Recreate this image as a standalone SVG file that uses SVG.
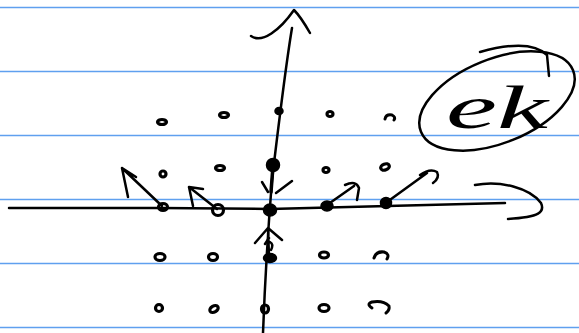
<svg xmlns="http://www.w3.org/2000/svg" width="579" height="333" viewBox="0 0 579 333">
<style>
.rule{stroke:#5fa0ef;stroke-width:1.5}
.ink{fill:none;stroke:#000;stroke-width:2.5;stroke-linecap:round;stroke-linejoin:round}
.dot{fill:none;stroke:#000;stroke-width:3.2}
.fdot{fill:#000;stroke:#000;stroke-width:1.5}
.txt{font-family:"Liberation Serif",serif;font-style:italic;font-size:62px;fill:#000}
</style>
<rect width="579" height="333" fill="#fff"/>
<g id="paper">
<line class="rule" x1="0" y1="7.5" x2="579" y2="7.5"/>
<line class="rule" x1="0" y1="71.5" x2="579" y2="71.5"/>
<line class="rule" x1="0" y1="135.5" x2="579" y2="135.5"/>
<line class="rule" x1="0" y1="199.5" x2="579" y2="199.5"/>
<line class="rule" x1="0" y1="263.5" x2="579" y2="263.5"/>
<line class="rule" x1="0" y1="327.5" x2="579" y2="327.5"/>
</g>
<g id="connectors">
<path id="y-axis" class="ink" d="M292,28 C285,70 278,130 272,180 C268,230 265,280 263,333"/>
<path id="y-head" class="ink" d="M251,36 C262,44 280,30 294,10 C300,16 306,26 310,33"/>
<path id="x-axis" class="ink" d="M9,208 L160,208 L270,209 L505,203"/>
<path id="x-head" class="ink" d="M475,185 C500,180 530,188 541,203 C545,212 540,217 508,219"/>
<path class="ink" d="M162,206 L122,168 M122,168 L128,197 M122,168 L136,177"/>
<path class="ink" d="M217,209 L189,187 M189,187 L193,206 M189,187 L203,189"/>
<path class="ink" d="M327,205 L354,186 M345,185 Q356,180 359,188 L357,200"/>
<path class="ink" d="M387,202 L427,173 M420,175 Q430,168 437,172 Q440,178 433,183"/>
<path class="ink" style="stroke-width:3.5" d="M273,166 L271,192"/>
<path class="ink" d="M262,182 L268,192 M276,193 L292,181"/>
<path class="ink" d="M269,256 L268,229 M255,243 L268,228 L282,240 M265,244 L269,238 M271,250 Q274,244 270,242"/>
</g>
<g id="dots-row1">
<ellipse class="dot" cx="162" cy="122" rx="4.5" ry="2.5"/>
<ellipse class="dot" cx="224" cy="115" rx="4.5" ry="2.5"/>
<ellipse class="fdot" cx="279" cy="111" rx="4" ry="3.5"/>
<ellipse class="dot" cx="330" cy="114" rx="3" ry="2.5"/>
<path class="ink" style="stroke-width:3" d="M385,119 Q386,114 392,115 Q396,117 394,120"/>
</g>
<g id="dots-row2">
<ellipse class="dot" cx="163" cy="174" rx="3" ry="3"/>
<ellipse class="dot" cx="220" cy="168" rx="4.5" ry="2.5"/>
<circle class="fdot" cx="273" cy="165" r="6.5"/>
<ellipse class="dot" cx="326" cy="170" rx="3" ry="2.5"/>
<ellipse class="dot" cx="385" cy="167" rx="4.5" ry="3" transform="rotate(-20 385 167)"/>
</g>
<g id="dots-row3">
<ellipse class="dot" cx="163" cy="207" rx="4.5" ry="3.5"/>
<circle class="dot" cx="218" cy="210" r="5.5" style="stroke-width:3.2"/>
<ellipse class="fdot" cx="270" cy="210" rx="6.5" ry="6"/>
<ellipse class="fdot" cx="327" cy="206" rx="6" ry="5"/>
<circle class="fdot" cx="386" cy="203" r="5.5"/>
</g>
<g id="dots-row4">
<ellipse class="dot" cx="160" cy="257" rx="5" ry="3.5"/>
<ellipse class="dot" cx="213" cy="257" rx="4.5" ry="3.5"/>
<ellipse class="fdot" cx="270" cy="258" rx="6.5" ry="4.5"/>
<ellipse class="dot" cx="324" cy="255" rx="4.5" ry="3"/>
<path class="ink" style="stroke-width:3" d="M374,258 Q376,251 384,252 Q390,254 387,259"/>
</g>
<g id="dots-row5">
<ellipse class="dot" cx="159" cy="308" rx="3.5" ry="3.5"/>
<ellipse class="dot" cx="214" cy="309" rx="4.5" ry="3" transform="rotate(-30 214 309)"/>
<ellipse class="dot" cx="265" cy="309" rx="3.5" ry="4"/>
<ellipse class="dot" cx="324" cy="308" rx="5" ry="3.5"/>
<path class="ink" style="stroke-width:3" d="M372,308 Q366,304 372,302 Q383,300 389,306 Q390,310 386,313"/>
</g>
<g id="label">
<ellipse class="ink" cx="497" cy="101" rx="82" ry="42" transform="rotate(-22 497 101)"/>
<path class="ink" d="M480,52 Q530,38 547,55 L549,76"/>
<text class="txt" x="446" y="128" textLength="102" lengthAdjust="spacingAndGlyphs">ek</text>
</g>
</svg>
